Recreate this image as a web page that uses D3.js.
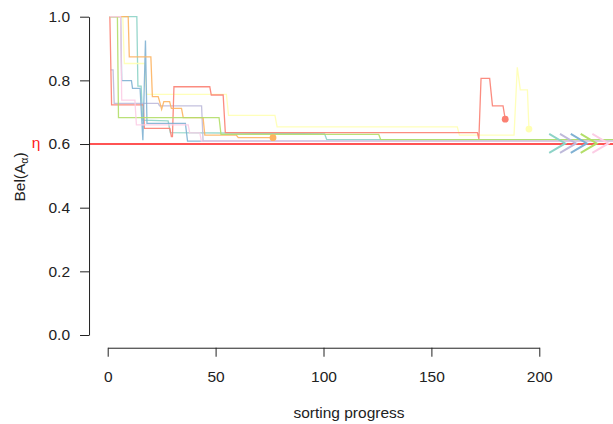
<!DOCTYPE html>
<html>
<head>
<meta charset="utf-8">
<script src="https://cdnjs.cloudflare.com/ajax/libs/d3/7.8.5/d3.min.js"></script>
<style>
  body { margin: 0; background: #fff; }
  svg { font-family: "Liberation Sans", Arial, Helvetica, sans-serif; display: block; }
</style>
</head>
<body>
<div id="chart"></div>
<script>
// tick values and threshold
var xTicks = [0, 50, 100, 150, 200];
var yTicks = [0, 0.2, 0.4, 0.6, 0.8, 1.0];
var eta = 0.6;

// belief runs, [sorting progress, Bel]
var tealRun = [[1, 1], [13.5, 1], [14, 0.782], [15.5, 0.782], [16.2, 0.675], [28, 0.673], [29, 0.636],
  [100.5, 0.632], [101.5, 0.614], [240, 0.614]];
var yellowRun = [[1, 1], [7, 1], [7.7, 0.853], [17.2, 0.853], [18, 0.756], [55, 0.756], [56, 0.69],
  [77.5, 0.69], [78.5, 0.654], [162, 0.654], [163, 0.628], [188.3, 0.628], [189.8, 0.841],
  [191.2, 0.77], [194.5, 0.77], [195.2, 0.647]];
var lavenderRun = [[1.4, 0.833], [2.5, 0.833], [3, 0.728], [23.4, 0.728], [24, 0.72], [43.5, 0.72],
  [44.2, 0.609], [240, 0.609]];
var redRun = [[1, 1], [1.8, 0.723], [16.5, 0.723], [17, 0.649], [28.8, 0.649], [29.5, 0.623], [30, 0.623],
  [30.7, 0.78], [47.3, 0.78], [48, 0.754], [53.5, 0.754], [54.5, 0.636], [171.3, 0.636], [172, 0.616],
  [173, 0.806], [177, 0.806], [178.3, 0.72], [183.2, 0.72], [184.2, 0.678]];
var blueRun = [[1, 1], [6, 1], [6.5, 0.799], [11, 0.799], [11.5, 0.775], [15, 0.775], [16.3, 0.612],
  [17.5, 0.925], [18.2, 0.665], [36, 0.665], [37, 0.609], [240, 0.609]];
var orangeRun = [[1, 1], [9.5, 1], [10, 0.874], [20, 0.874], [20.7, 0.749], [23.4, 0.749], [24, 0.735],
  [25, 0.709], [26, 0.733], [28.7, 0.733], [29.5, 0.712], [34.2, 0.712], [35, 0.683], [44.2, 0.683],
  [45, 0.628], [59.6, 0.628], [60.5, 0.62], [76.6, 0.62]];
var greenRun = [[1, 1], [4.5, 1], [5, 0.683], [51.6, 0.683], [52.5, 0.63], [125.6, 0.63], [126.5, 0.614],
  [240, 0.614]];
var pinkRun = [[1, 1], [6, 1], [6.5, 0.738], [12.6, 0.738], [13.3, 0.66], [37.3, 0.66], [38, 0.635],
  [42.7, 0.635], [43.4, 0.609], [240, 0.609]];

var runs = [tealRun, yellowRun, lavenderRun, redRun, blueRun, orangeRun, greenRun, pinkRun];
var colors = ["#8DD3C7", "#FFFFB3", "#BEBADA", "#FB8072", "#80B1D3", "#FDB462", "#B3DE69", "#FCCDE5"];
// finished runs get a dot, unfinished ones a chevron at this x
var finished = [false, true, false, true, false, true, false, false];
var chevronX = [212, null, 217, null, 222, null, 226.6, 232];

var width = 613, height = 424;
var fontSize = 15.5;

var x = d3.scaleLinear().domain([0, 200]).range([107.7, 539.3]);
var y = d3.scaleLinear().domain([0, 1]).range([335, 16.7]);

var left = x(-8.65), top = y(1.04), bottom = y(-0.04);

var svg = d3.select("#chart").append("svg")
  .attr("width", width)
  .attr("height", height);

var plot = svg.append("g");

var line = d3.line()
  .x(function (d) { return x(d[0]); })
  .y(function (d) { return y(d[1]); });

plot.selectAll(".run")
  .data(runs)
  .enter().append("path")
  .attr("class", "run")
  .attr("d", line)
  .attr("fill", "none")
  .attr("stroke", function (d, i) { return colors[i]; })
  .attr("stroke-width", 1.3)
  .attr("stroke-opacity", 0.9);

// threshold line
plot.append("line")
  .attr("x1", left).attr("x2", width)
  .attr("y1", y(eta)).attr("y2", y(eta))
  .attr("stroke", "#ff1a1a")
  .attr("stroke-width", 1.3);

// end dots
plot.selectAll(".dot")
  .data(runs.filter(function (d, i) { return finished[i]; }))
  .enter().append("circle")
  .attr("class", "dot")
  .attr("cx", function (d) { return x(d[d.length - 1][0]); })
  .attr("cy", function (d) { return y(d[d.length - 1][1]); })
  .attr("r", 3.4)
  .attr("fill", function (d) { return colors[runs.indexOf(d)]; });

// chevrons for runs still going
plot.selectAll(".chev")
  .data(chevronX.map(function (c, i) { return { x: c, i: i }; }).filter(function (d) { return d.x !== null; }))
  .enter().append("path")
  .attr("class", "chev")
  .attr("transform", function (d) { return "translate(" + x(d.x) + "," + y(0.602) + ")"; })
  .attr("d", "M-16,-9.5L0,0L-16,9.5")
  .attr("fill", "none")
  .attr("stroke", function (d) { return colors[d.i]; })
  .attr("stroke-width", 2);

// L box
svg.append("path")
  .attr("d", "M" + left + "," + top + "V" + bottom + "H" + width)
  .attr("fill", "none")
  .attr("stroke", "#444")
  .attr("stroke-width", 1);

var yAxis = svg.append("g")
  .attr("transform", "translate(" + left + ",0)")
  .call(d3.axisLeft(y).tickValues(yTicks).tickSize(9).tickSizeOuter(0).tickPadding(10)
    .tickFormat(d3.format(".1f")));

var xAxis = svg.append("g")
  .attr("transform", "translate(0," + bottom + ")")
  .call(d3.axisBottom(x).tickValues(xTicks).tickSize(9).tickSizeOuter(0).tickPadding(14));

[yAxis, xAxis].forEach(function (a) {
  a.selectAll("text").attr("font-size", fontSize).attr("fill", "#222").attr("font-family", null);
  a.selectAll("line, path").attr("stroke", "#222");
});

// labels
svg.append("text")
  .attr("x", 349).attr("y", 418)
  .attr("text-anchor", "middle")
  .attr("font-size", fontSize)
  .attr("fill", "#222")
  .text("sorting progress");

var ylab = svg.append("text")
  .attr("transform", "translate(25,177) rotate(-90)")
  .attr("text-anchor", "middle")
  .attr("font-size", fontSize)
  .attr("fill", "#222");
ylab.append("tspan").text("Bel(A");
ylab.append("tspan").attr("font-size", 10.5).attr("dy", 3).text("\u03b1");
ylab.append("tspan").attr("dy", -3).text(")");

svg.append("text")
  .attr("x", 36).attr("y", y(eta) + 3.5)
  .attr("text-anchor", "middle")
  .attr("font-size", fontSize)
  .attr("fill", "#ff1a1a")
  .text("\u03b7");
</script>
</body>
</html>
